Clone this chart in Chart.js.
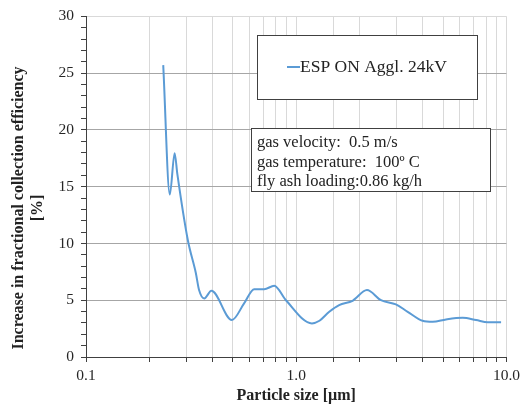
<!DOCTYPE html>
<html>
<head>
<meta charset="utf-8">
<script src="https://cdn.jsdelivr.net/npm/chart.js@4/dist/chart.umd.min.js"></script>
<style>
  html, body { margin: 0; padding: 0; background: #fff; }
  #wrap { width: 525px; height: 405px; }
</style>
</head>
<body>
<div id="wrap"><canvas id="grafico"></canvas></div>
<script>
// particle size [um] and increase in fractional collection efficiency [%]
const sizes = [0.233, 0.2504, 0.264, 0.272, 0.305, 0.333, 0.345, 0.365, 0.395, 0.494, 0.565,
  0.631, 0.704, 0.786, 0.893, 1.188, 1.29, 1.436, 1.60, 1.854, 2.17, 2.53, 2.98, 3.39,
  3.99, 4.46, 5.16, 6.19, 7.17, 8.15, 9.43];
const efficiency = [25.7, 14.3, 17.95, 16.1, 10.3, 7.4, 5.9, 5.16, 5.83, 3.25, 4.72,
  5.97, 5.97, 6.27, 5.0, 2.96, 3.19, 3.98, 4.57, 4.95, 5.89, 5.0, 4.63, 3.98,
  3.19, 3.1, 3.31, 3.45, 3.25, 3.05, 3.05];
const serieNome = 'ESP ON Aggl. 24kV';
const infoLinhas = ['gas velocity:  0.5 m/s', 'gas temperature:  100º C', 'fly ash loading:0.86 kg/h'];
const tituloX = 'Particle size [µm]';
const tituloY = ['Increase in fractional collection efficiency', '[%]'];

const fonte = 'Liberation Serif';
const corAzul = 'rgb(91, 155, 213)';
const corEixo = '#404040';

// caixas de legenda / info e titulo do eixo y
const extras = {
  id: 'extras',
  afterDatasetsDraw(chart) {
    const ctx = chart.ctx;
    ctx.save();
    // caixa da legenda
    ctx.fillStyle = '#fff';
    ctx.strokeStyle = corEixo;
    ctx.lineWidth = 1;
    ctx.fillRect(257.5, 35.5, 220, 64);
    ctx.strokeRect(257.5, 35.5, 220, 64);
    ctx.strokeStyle = corAzul;
    ctx.lineWidth = 2;
    ctx.beginPath();
    ctx.moveTo(287, 67);
    ctx.lineTo(300, 67);
    ctx.stroke();
    ctx.fillStyle = '#222';
    ctx.font = '17.5px "' + fonte + '"';
    ctx.textBaseline = 'middle';
    ctx.textAlign = 'left';
    ctx.fillText(serieNome, 300, 67);

    // caixa de info
    ctx.fillStyle = '#fff';
    ctx.strokeStyle = corEixo;
    ctx.lineWidth = 1;
    ctx.fillRect(251.5, 128.5, 239, 63);
    ctx.strokeRect(251.5, 128.5, 239, 63);
    ctx.fillStyle = '#222';
    ctx.font = '16.5px "' + fonte + '"';
    infoLinhas.forEach((t, i) => ctx.fillText(t, 257, 143 + i * 19.5));

    // titulo do eixo y
    ctx.font = 'bold 16px "' + fonte + '"';
    ctx.textAlign = 'center';
    ctx.translate(19, 208);
    ctx.rotate(-Math.PI / 2);
    ctx.fillText(tituloY[0], 0, 0);
    ctx.fillText(tituloY[1], 0, 19);
    ctx.restore();
  }
};

new Chart(document.getElementById('grafico'), {
  type: 'line',
  data: {
    datasets: [{
      label: serieNome,
      data: sizes.map((s, i) => ({ x: s, y: efficiency[i] })),
      borderColor: corAzul,
      borderWidth: 2,
      pointRadius: 0,
      fill: false,
      cubicInterpolationMode: 'monotone'
    }]
  },
  options: {
    responsive: true,
    maintainAspectRatio: false,
    animation: false,
    layout: { padding: { left: 0, top: 16, right: 18, bottom: 0 } },
    plugins: {
      legend: { display: false },
      tooltip: { enabled: false }
    },
    scales: {
      x: {
        type: 'logarithmic',
        min: 0.1,
        max: 10,
        afterFit: (s) => { s.height = 48; },
        border: { color: corEixo, width: 1 },
        grid: { color: '#d9d9d9', tickColor: corEixo, tickLength: 5 },
        ticks: {
          autoSkip: false,
          maxRotation: 0,
          padding: 5,
          color: '#262626',
          font: { family: fonte, size: 15.5 },
          callback: (v) => {
            const l = Math.log10(v);
            return Math.abs(l - Math.round(l)) < 1e-9 ? Number(v).toFixed(1) : '';
          }
        },
        title: {
          display: true,
          text: tituloX,
          color: '#222',
          font: { family: fonte, size: 16, weight: 'bold' },
          padding: { top: 0, bottom: 0 }
        }
      },
      y: {
        min: 0,
        max: 30,
        afterFit: (s) => { s.width = 86; },
        border: { color: corEixo, width: 1 },
        grid: {
          color: (c) => {
            const v = c.tick.value;
            if (v % 5 !== 0) return 'rgba(0,0,0,0)';
            return v === 30 ? '#d9d9d9' : '#a6a6a6';
          },
          tickColor: corEixo,
          tickLength: 5
        },
        ticks: {
          stepSize: 1,
          autoSkip: false,
          padding: 7,
          color: '#262626',
          font: { family: fonte, size: 15.5 },
          callback: (v) => (v % 5 === 0 ? v : '')
        }
      }
    }
  },
  plugins: [extras]
});
</script>
</body>
</html>
